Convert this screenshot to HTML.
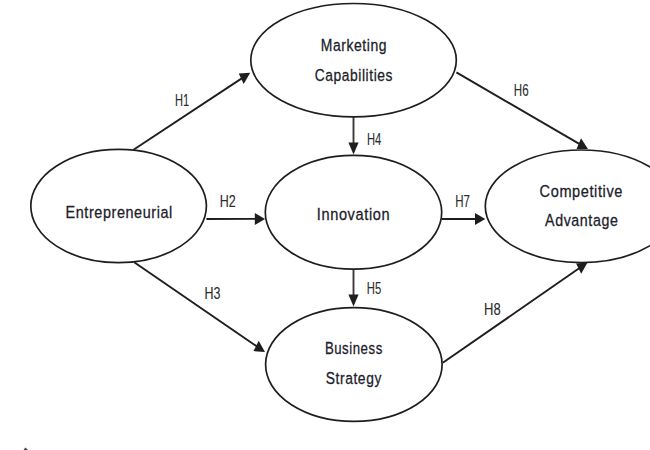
<!DOCTYPE html><html><head><meta charset="utf-8"><style>html,body{margin:0;padding:0;background:#fff;width:650px;height:450px;overflow:hidden}svg{display:block}text{font-family:"Liberation Sans", sans-serif}</style></head><body>
<svg width="650" height="450" viewBox="0 0 650 450">
<rect width="650" height="450" fill="#fff"/>
<line x1="133.5" y1="149.8" x2="242.11" y2="78.14" stroke="#1e1e1e" stroke-width="1.9"/><polygon points="250.20,72.80 243.70,83.98 238.72,73.48" fill="#1e1e1e"/>
<line x1="206.4" y1="219" x2="255.83" y2="218.92" stroke="#1e1e1e" stroke-width="1.9"/><polygon points="265.10,218.90 254.81,224.94 254.79,212.90" fill="#1e1e1e"/>
<line x1="134.2" y1="262.3" x2="256.99" y2="346.50" stroke="#1e1e1e" stroke-width="1.9"/><polygon points="265.00,352.00 253.53,351.10 258.66,340.69" fill="#1e1e1e"/>
<line x1="353.5" y1="116.9" x2="353.50" y2="143.66" stroke="#3a3a3a" stroke-width="1.9"/><polygon points="353.50,154.60 348.40,142.45 358.60,142.45" fill="#1e1e1e"/>
<line x1="353.5" y1="269.2" x2="353.50" y2="295.66" stroke="#3a3a3a" stroke-width="1.9"/><polygon points="353.50,306.60 348.40,294.45 358.60,294.45" fill="#1e1e1e"/>
<line x1="456.4" y1="72.4" x2="579.69" y2="144.16" stroke="#1e1e1e" stroke-width="1.9"/><polygon points="588.00,149.00 576.51,149.02 581.02,138.23" fill="#1e1e1e"/>
<line x1="441.7" y1="219" x2="476.03" y2="219.00" stroke="#1e1e1e" stroke-width="1.9"/><polygon points="485.30,219.00 475.00,225.02 475.00,212.98" fill="#1e1e1e"/>
<line x1="442.8" y1="362.8" x2="579.51" y2="268.04" stroke="#1e1e1e" stroke-width="1.9"/><polygon points="587.50,262.50 581.20,273.84 576.04,263.47" fill="#1e1e1e"/>
<ellipse cx="353.55" cy="60.2" rx="102.75" ry="56.7" fill="none" stroke="#1e1e1e" stroke-width="1.7"/>
<ellipse cx="118.6" cy="206.05" rx="87.8" ry="56.65" fill="none" stroke="#1e1e1e" stroke-width="1.7"/>
<ellipse cx="353.5" cy="212.3" rx="88.2" ry="56.9" fill="none" stroke="#1e1e1e" stroke-width="1.7"/>
<ellipse cx="353.85" cy="364.5" rx="88.25" ry="56.9" fill="none" stroke="#1e1e1e" stroke-width="1.7"/>
<ellipse cx="581.3" cy="206.3" rx="96" ry="56.3" fill="none" stroke="#1e1e1e" stroke-width="1.7"/>
<text x="320.7" y="50.5" textLength="66.4" lengthAdjust="spacingAndGlyphs" font-size="16.8" letter-spacing="0.7" fill="#20202a" stroke="#20202a" stroke-width="0.28">Marketing</text>
<text x="314.8" y="81" textLength="78.2" lengthAdjust="spacingAndGlyphs" font-size="16.8" letter-spacing="0.7" fill="#20202a" stroke="#20202a" stroke-width="0.28">Capabilities</text>
<text x="65.5" y="218.1" textLength="107.4" lengthAdjust="spacingAndGlyphs" font-size="16.8" letter-spacing="0.7" fill="#20202a" stroke="#20202a" stroke-width="0.28">Entrepreneurial</text>
<text x="316.8" y="219.9" textLength="73.4" lengthAdjust="spacingAndGlyphs" font-size="16.8" letter-spacing="0.7" fill="#20202a" stroke="#20202a" stroke-width="0.28">Innovation</text>
<text x="539.6" y="196.8" textLength="83.4" lengthAdjust="spacingAndGlyphs" font-size="16.8" letter-spacing="0.7" fill="#20202a" stroke="#20202a" stroke-width="0.28">Competitive</text>
<text x="545.1" y="226.3" textLength="73.3" lengthAdjust="spacingAndGlyphs" font-size="16.8" letter-spacing="0.7" fill="#20202a" stroke="#20202a" stroke-width="0.28">Advantage</text>
<text x="324.9" y="353.6" textLength="57.9" lengthAdjust="spacingAndGlyphs" font-size="16.8" letter-spacing="0.7" fill="#20202a" stroke="#20202a" stroke-width="0.28">Business</text>
<text x="325.8" y="383.5" textLength="56.1" lengthAdjust="spacingAndGlyphs" font-size="16.8" letter-spacing="0.7" fill="#20202a" stroke="#20202a" stroke-width="0.28">Strategy</text>
<text x="175" y="105.8" textLength="14.2" lengthAdjust="spacingAndGlyphs" font-size="16" fill="#2c2c2c" stroke="#2c2c2c" stroke-width="0.12">H1</text>
<text x="219.7" y="206.6" textLength="16.0" lengthAdjust="spacingAndGlyphs" font-size="16" fill="#2c2c2c" stroke="#2c2c2c" stroke-width="0.12">H2</text>
<text x="204.5" y="299" textLength="15.9" lengthAdjust="spacingAndGlyphs" font-size="16" fill="#2c2c2c" stroke="#2c2c2c" stroke-width="0.12">H3</text>
<text x="367" y="144.7" textLength="14.3" lengthAdjust="spacingAndGlyphs" font-size="16" fill="#2c2c2c" stroke="#2c2c2c" stroke-width="0.12">H4</text>
<text x="366.8" y="293.5" textLength="14.4" lengthAdjust="spacingAndGlyphs" font-size="16" fill="#2c2c2c" stroke="#2c2c2c" stroke-width="0.12">H5</text>
<text x="513.8" y="96.4" textLength="14.8" lengthAdjust="spacingAndGlyphs" font-size="16" fill="#2c2c2c" stroke="#2c2c2c" stroke-width="0.12">H6</text>
<text x="455.3" y="206.7" textLength="14.7" lengthAdjust="spacingAndGlyphs" font-size="16" fill="#2c2c2c" stroke="#2c2c2c" stroke-width="0.12">H7</text>
<text x="484" y="315" textLength="16.6" lengthAdjust="spacingAndGlyphs" font-size="16" fill="#2c2c2c" stroke="#2c2c2c" stroke-width="0.12">H8</text>
<polygon points="23.5,450 25.4,447.6 28,450" fill="#444"/>
</svg></body></html>
